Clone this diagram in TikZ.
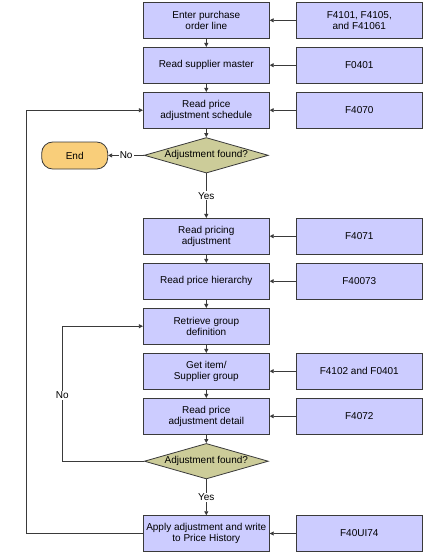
\documentclass[tikz,border=0pt]{standalone}
\usepackage{fontspec}
\setmainfont{Liberation Sans}
\usetikzlibrary{arrows.meta,shapes.geometric}

\definecolor{boxblue}{HTML}{CCCCFF}
\definecolor{testgreen}{HTML}{CCCC99}
\definecolor{endorange}{HTML}{F9CE7A}
\definecolor{edgegray}{HTML}{3A3A3A}

\begin{document}
\begin{tikzpicture}[x=1pt,y=-1pt]
                \tikzset{StepBox/.style={draw=edgegray, fill=boxblue, line width=0.8pt,
                    minimum width=126pt, minimum height=35.7pt, inner sep=1pt,
                    align=center, font=\fontsize{10}{11.3}\selectfont}}
                \tikzset{FileBox/.style={StepBox, minimum width=125.3pt}}
                \tikzset{TestBox/.style={diamond, draw=edgegray, fill=testgreen, line width=0.8pt,
                    minimum width=124pt, minimum height=35.5pt, aspect=3.5, inner sep=0pt,
                    font=\fontsize{10}{11.3}\selectfont}}
                \tikzset{EndBox/.style={draw=edgegray, fill=endorange, line width=0.8pt,
                    rounded corners=11pt, minimum width=66pt, minimum height=27pt,
                    font=\fontsize{10}{11.3}\selectfont}}
                \tikzset{Flow/.style={draw=edgegray, line width=0.8pt,
                    -{Triangle[length=4pt,width=4pt]}}}
                \tikzset{LabelStyle/.style={fill=white, inner sep=1pt,
                    font=\fontsize{10}{11.3}\selectfont}}
                \useasboundingbox (0,0) rectangle (425,555);
                \node[StepBox] (S1) at (206.3,20.3) {Enter purchase\\order line};
                \node[StepBox] (S2) at (206.3,65.2) {Read supplier master};
                \node[StepBox] (S3) at (206.3,110.2) {Read price\\adjustment schedule};
                \node[TestBox] (T1) at (206.3,155.3) {Adjustment found?};
                \node[EndBox] (End) at (74.7,155.5) {End};
                \node[StepBox] (S4) at (206.3,236.2) {Read pricing\\adjustment};
                \node[StepBox] (S5) at (206.3,281.2) {Read price hierarchy};
                \node[StepBox] (S6) at (206.3,326.2) {Retrieve group\\definition};
                \node[StepBox] (S7) at (206.3,371.2) {Get item/\\Supplier group};
                \node[StepBox] (S8) at (206.3,416.2) {Read price\\adjustment detail};
                \node[TestBox] (T2) at (206.3,461.2) {Adjustment found?};
                \node[StepBox] (S9) at (206.3,533.5) {Apply adjustment and write\\to Price History};
                \node[FileBox] (F1) at (359.3,20.3) {F4101, F4105,\\and F41061};
                \node[FileBox] (F2) at (359.3,65.2) {F0401};
                \node[FileBox] (F3) at (359.3,110.2) {F4070};
                \node[FileBox] (F4) at (359.3,236.2) {F4071};
                \node[FileBox] (F5) at (359.3,281.2) {F40073};
                \node[FileBox] (F7) at (359.3,371.2) {F4102 and F0401};
                \node[FileBox] (F8) at (359.3,416.2) {F4072};
                \node[FileBox] (F9) at (359.3,533.5) {F40UI74};
                \coordinate (LoopOut) at (26.7,110.2);
                \coordinate (LoopIn) at (62.3,326.2);
                \draw[Flow] (S1) -- (S2);
                \draw[Flow] (S2) -- (S3);
                \draw[Flow] (S3) -- (T1);
                \draw[Flow] (T1) -- node[LabelStyle, pos=0.5]{No} (End);
                \draw[Flow] (T1) -- node[LabelStyle, pos=0.5]{Yes} (S4);
                \draw[Flow] (S4) -- (S5);
                \draw[Flow] (S5) -- (S6);
                \draw[Flow] (S6) -- (S7);
                \draw[Flow] (S7) -- (S8);
                \draw[Flow] (S8) -- (T2);
                \draw[Flow] (T2) -- node[LabelStyle, pos=0.5]{Yes} (S9);
                \draw[Flow] (T2.west) -| node[LabelStyle, pos=0.745]{No} (LoopIn) -- (S6.west);
                \draw[Flow] (S9.west) -| (LoopOut) -- (S3.west);
                \draw[Flow] (F1) -- (S1);
                \draw[Flow] (F2) -- (S2);
                \draw[Flow] (F3) -- (S3);
                \draw[Flow] (F4) -- (S4);
                \draw[Flow] (F5) -- (S5);
                \draw[Flow] (F7) -- (S7);
                \draw[Flow] (F8) -- (S8);
                \draw[Flow] (F9) -- (S9);
\end{tikzpicture}
\end{document}
